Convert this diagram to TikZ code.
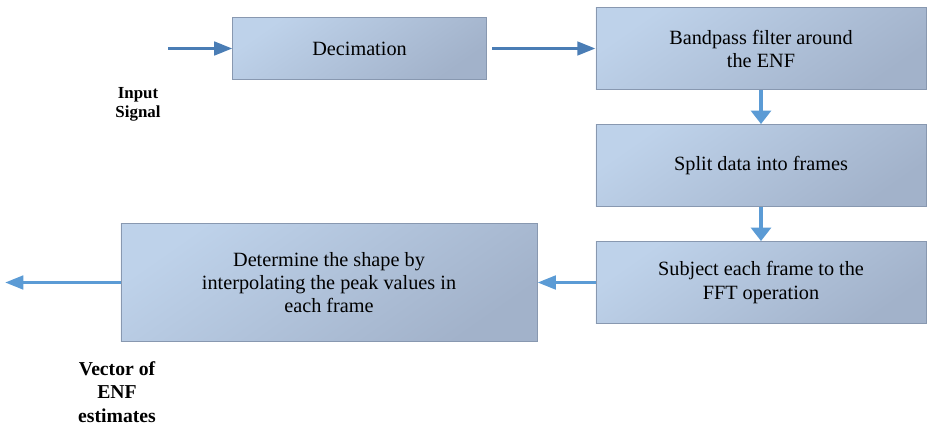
\documentclass[tikz,border=0pt]{standalone}
\usepackage{fontspec}
\setmainfont{Liberation Serif}
\usetikzlibrary{arrows.meta}
\usetikzlibrary{positioning}
\definecolor{boxlight}{HTML}{BED2EA}
\definecolor{boxdark}{HTML}{A2B2CA}
\definecolor{boxline}{HTML}{8898B0}
\definecolor{darkflow}{HTML}{4A7DB5}
\definecolor{lightflow}{HTML}{5B9BD5}
\tikzset{
	stage/.style={draw=boxline, line width=0.6pt, top color=boxlight, bottom color=boxdark, shading angle=35,
		align=center, inner sep=0pt, font=\fontsize{14.4}{16.4}\selectfont},
	hflow/.style={line width=2.5pt, -{Triangle[length=13pt,width=9.5pt]}},
	vflow/.style={line width=2.5pt, lightflow, -{Triangle[length=9.5pt,width=14pt]}},
	tag/.style={align=center, inner sep=0pt}
}

\begin{document}
\begin{tikzpicture}[x=0.025cm, y=-0.025cm]
				\useasboundingbox (0,0) rectangle (927,429);
				\node (dec)[stage, minimum width=6.33cm, minimum height=1.55cm] at (359.5,48.5){Decimation};
				\node (bpf)[stage, minimum width=8.25cm, minimum height=2.05cm] at (761,48.5){Bandpass filter around\\the ENF};
				\node (split)[stage, minimum width=8.25cm, minimum height=2.05cm] at (761,165.5){Split data into frames};
				\node (fft)[stage, minimum width=8.25cm, minimum height=2.05cm] at (761,282.5){Subject each frame to the\\FFT operation};
				\node (shape)[stage, minimum width=10.4cm, minimum height=2.95cm] at (329,282.5){Determine the shape by\\interpolating the peak values in\\each frame};
				%
				\coordinate (in) at (168,48.5);
				\coordinate (out) at (5,282.5);
				\draw[hflow, darkflow] (in) -- (dec);
				\draw[hflow, darkflow, shorten <=4pt] (dec) -- (bpf);
				\draw[vflow] (bpf) -- (split);
				\draw[vflow] (split) -- (fft);
				\draw[hflow, lightflow] (fft) -- (shape);
				\draw[hflow, lightflow] (shape) -- (out);
				%
				\node (insig)[tag, font=\fontsize{12}{13.5}\selectfont\bfseries] at (138,104){Input\\Signal};
				\node (enf)[tag, font=\fontsize{14}{16.7}\selectfont\bfseries] at (117,392){Vector of\\ENF\\estimates};
\end{tikzpicture}
\end{document}
